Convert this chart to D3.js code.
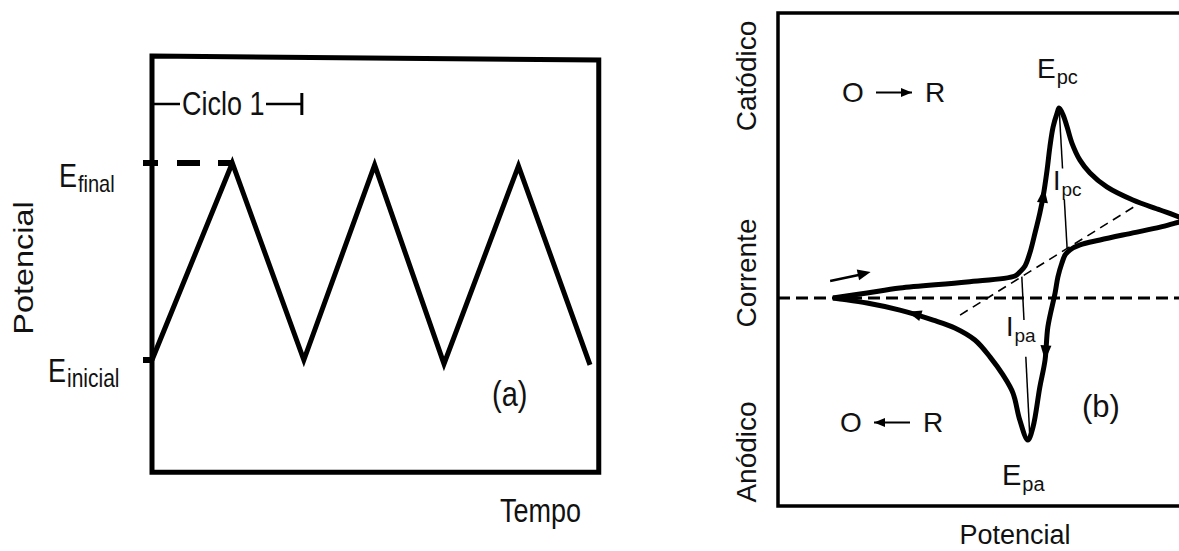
<!DOCTYPE html>
<html>
<head>
<meta charset="utf-8">
<script src="https://cdn.jsdelivr.net/npm/d3@7"></script>
<style>
  html, body { margin: 0; padding: 0; background: #fff; }
  svg { display: block; }
</style>
</head>
<body>
<svg id="chart" width="1179" height="551"></svg>
<script>
// ---- (a) triangular potential program: time (arb.) vs potential (0 = E inicial, 1 = E final)
const cycleTimes = [0, 1.1, 2.08, 3.05, 4.0, 5.02, 6.0];
const cyclePotentials = [0, 1, 0, 0.99, -0.02, 0.985, -0.025];

// ---- (b) cyclic voltammogram: potential (arb.) vs current (cathodic > 0)
const forwardE = [13.7, 22.2, 30.4, 47.1, 59.1, 60.3, 61.6, 62.8, 64.1, 65.3, 66.1, 67.1, 67.8, 68.6, 69.6, 70.1,
                  71.1, 72.1, 73.3, 75.3, 77.8, 82.0, 88.5, 95.3, 100.0, 101.5];
const forwardI = [0, 0.024, 0.048, 0.077, 0.106, 0.125, 0.154, 0.216, 0.313, 0.409, 0.486, 0.615, 0.726, 0.822, 0.889, 0.913,
                  0.880, 0.822, 0.745, 0.663, 0.601, 0.534, 0.471, 0.423, 0.389, 0.370];
const reverseE = [101.5, 100.0, 95.3, 88.5, 80.3, 75.3, 72.8, 71.6, 70.8, 69.8, 69.1, 67.3, 66.6, 65.3, 63.6, 62.3,
                  60.3, 58.6, 56.1, 52.9, 49.1, 44.1, 38.7, 30.4, 22.2, 15.5, 13.7];
const reverseI = [0.370, 0.365, 0.341, 0.313, 0.279, 0.255, 0.231, 0.207, 0.168, 0.101, 0.024, -0.139, -0.298, -0.428, -0.620, -0.683,
                  -0.587, -0.457, -0.370, -0.284, -0.202, -0.144, -0.106, -0.058, -0.024, -0.005, 0];
// extrapolated baseline used for the peak currents
const baselineE = [45.4, 89.5];
const baselineI = [-0.082, 0.447];
// peaks: cathodic (pc) and anodic (pa)
const peakE = { pc: 70.1, pa: 62.3 };
const peakI = { pc: 0.913, pa: -0.683 };

const FONT = "'Liberation Sans', Arial, Helvetica, sans-serif";
const svg = d3.select("#chart");

function arrowHead(g, from, to, len, half) {
  const dx = to[0] - from[0], dy = to[1] - from[1];
  const L = Math.hypot(dx, dy), ux = dx / L, uy = dy / L;
  const bx = to[0] - ux * len, by = to[1] - uy * len;
  g.append("path")
    .attr("d", `M${to[0]},${to[1]}L${bx - uy * half},${by + ux * half}L${bx + uy * half},${by - ux * half}Z`)
    .attr("fill", "#000");
}

// label with a subscript; sy stretches vertically
function subLabel(g, x, y, main, sub, size, subSize, subDy, sy) {
  const t = g.append("text")
    .attr("transform", `translate(${x},${y}) scale(1,${sy})`)
    .attr("font-family", FONT).attr("font-size", size).attr("fill", "#111");
  t.append("tspan").text(main);
  t.append("tspan").attr("font-size", subSize).attr("dy", subDy).attr("dx", 1).text(sub);
  return t;
}

// ================= panel (a) =================
const xT = d3.scaleLinear().domain([0, 6]).range([152, 590]);
const yP = d3.scaleLinear().domain([0, 1]).range([360, 163]);
const pa = svg.append("g");
const SY = 1.2;

pa.append("path")
  .attr("d", d3.line()([[xT(0), yP(1.543)], [xT(6.12), yP(1.523)], [xT(6.12), yP(-0.57)], [xT(0), yP(-0.57)]]) + "Z")
  .attr("fill", "none").attr("stroke", "#000").attr("stroke-width", 5);

// E final dashed guide and E inicial tick
pa.append("line")
  .attr("x1", xT(0) - 9).attr("x2", xT(cycleTimes[1])).attr("y1", yP(1)).attr("y2", yP(1))
  .attr("stroke", "#000").attr("stroke-width", 6).attr("stroke-dasharray", "15 19 23 18 14");
pa.append("line")
  .attr("x1", xT(0) - 9).attr("x2", xT(0)).attr("y1", yP(0)).attr("y2", yP(0))
  .attr("stroke", "#000").attr("stroke-width", 6);

// triangular wave
pa.append("path")
  .datum(cycleTimes.map((t, i) => [t, cyclePotentials[i]]))
  .attr("d", d3.line().x(d => xT(d[0])).y(d => yP(d[1])))
  .attr("fill", "none").attr("stroke", "#000").attr("stroke-width", 5).attr("stroke-linejoin", "miter");

// cycle 1 marker
const cy = 104, cEnd = xT(cycleTimes[2]) - 2;
pa.append("line").attr("x1", xT(0)).attr("x2", 180).attr("y1", cy).attr("y2", cy).attr("stroke", "#000").attr("stroke-width", 2.5);
pa.append("text").attr("transform", `translate(182,115) scale(1,${SY})`)
  .attr("font-family", FONT).attr("font-size", 27).attr("fill", "#111").text("Ciclo 1");
pa.append("line").attr("x1", 266).attr("x2", cEnd).attr("y1", cy).attr("y2", cy).attr("stroke", "#000").attr("stroke-width", 2.5);
pa.append("line").attr("x1", cEnd).attr("x2", cEnd).attr("y1", 93).attr("y2", 115).attr("stroke", "#000").attr("stroke-width", 3);

subLabel(pa, 59, 187, "E", "final", 27, 20, 4, SY);
subLabel(pa, 48, 382, "E", "inicial", 27, 21, 4, SY);

pa.append("text").attr("transform", `translate(33,268) rotate(-90) scale(${SY},1)`)
  .attr("text-anchor", "middle").attr("font-family", FONT).attr("font-size", 27).attr("fill", "#111").text("Potencial");
pa.append("text").attr("transform", `translate(492,406) scale(1,${SY})`)
  .attr("font-family", FONT).attr("font-size", 29).attr("fill", "#111").text("(a)");
pa.append("text").attr("transform", `translate(500,522) scale(1,${SY})`)
  .attr("font-family", FONT).attr("font-size", 27).attr("fill", "#111").text("Tempo");

// ================= panel (b) =================
const xE = d3.scaleLinear().domain([0, 100]).range([778, 1179]);
const yI = d3.scaleLinear().domain([-1, 1]).range([506, 90]);
const pb = svg.append("g");

// frame (open on the right, beyond the view)
pb.append("path")
  .attr("d", d3.line()([[xE(102), yI(1.37)], [xE(0), yI(1.37)], [xE(0), yI(-1)], [xE(102), yI(-1)]]))
  .attr("fill", "none").attr("stroke", "#000").attr("stroke-width", 3.5);

// zero-current line
pb.append("line").attr("x1", xE(0)).attr("x2", xE(101)).attr("y1", yI(0)).attr("y2", yI(0))
  .attr("stroke", "#000").attr("stroke-width", 3).attr("stroke-dasharray", "12 6");

// baseline
pb.append("line")
  .attr("x1", xE(baselineE[0])).attr("y1", yI(baselineI[0]))
  .attr("x2", xE(baselineE[1])).attr("y2", yI(baselineI[1]))
  .attr("stroke", "#000").attr("stroke-width", 1.6).attr("stroke-dasharray", "9 6");

const baseAt = e => baselineI[0] + (baselineI[1] - baselineI[0]) * (e - baselineE[0]) / (baselineE[1] - baselineE[0]);

// peak current markers with a gap for their labels
function peakLine(p0, p1, gaps) {
  const segs = [[0, gaps[0]], [gaps[1], 1]];
  segs.forEach(([t0, t1]) => {
    pb.append("line")
      .attr("x1", p0[0] + (p1[0] - p0[0]) * t0).attr("y1", p0[1] + (p1[1] - p0[1]) * t0)
      .attr("x2", p0[0] + (p1[0] - p0[0]) * t1).attr("y2", p0[1] + (p1[1] - p0[1]) * t1)
      .attr("stroke", "#000").attr("stroke-width", 1.5);
  });
}
const pcFootE = 72.1, paFootE = 60.8;
peakLine([xE(peakE.pc), yI(peakI.pc)], [xE(pcFootE), yI(baseAt(pcFootE))], [0.43, 0.65]);
peakLine([xE(paFootE), yI(baseAt(paFootE))], [xE(peakE.pa + 0.5), yI(peakI.pa + 0.015)], [0.27, 0.5]);

// voltammogram
const cvLine = d3.line().x(d => xE(d[0])).y(d => yI(d[1])).curve(d3.curveCatmullRom.alpha(0.5));
const fwd = forwardE.map((e, i) => [e, forwardI[i]]);
const rev = reverseE.map((e, i) => [e, reverseI[i]]);
[fwd, rev].forEach(data => {
  pb.append("path").datum(data).attr("d", cvLine)
    .attr("fill", "none").attr("stroke", "#000").attr("stroke-width", 5).attr("stroke-linejoin", "round");
});

// scan direction arrows
const P = (e, i) => [xE(e), yI(i)];
arrowHead(pb, P(65.9, 0.45), P(66.4, 0.53), 15, 5.5);
arrowHead(pb, P(67.0, -0.17), P(66.6, -0.30), 15, 5.5);
arrowHead(pb, P(36.0, -0.088), P(32.3, -0.066), 14, 5.5);
// start of scan
pb.append("line").attr("x1", xE(13.0)).attr("y1", yI(0.082)).attr("x2", xE(21.0)).attr("y2", yI(0.114))
  .attr("stroke", "#000").attr("stroke-width", 2.5);
arrowHead(pb, P(13.0, 0.082), P(23.1, 0.125), 13, 5.5);

// reaction annotations
function reaction(x, y, leftToRight) {
  pb.append("text").attr("x", x).attr("y", y).attr("font-family", FONT).attr("font-size", 28).attr("fill", "#111").text("O");
  pb.append("text").attr("x", x + 83).attr("y", y).attr("font-family", FONT).attr("font-size", 28).attr("fill", "#111").text("R");
  const ay = y - 9.5;
  const a0 = [x + 34, ay], a1 = [x + 70, ay];
  pb.append("line").attr("x1", a0[0]).attr("x2", a1[0]).attr("y1", ay).attr("y2", ay).attr("stroke", "#000").attr("stroke-width", 2);
  if (leftToRight) arrowHead(pb, a0, a1, 11, 4.5); else arrowHead(pb, a1, a0, 11, 4.5);
}
reaction(842, 102, true);
reaction(840, 432, false);

// peak labels
subLabel(pb, 1037, 78, "E", "pc", 28, 20, 6, 1);
subLabel(pb, 1002, 485, "E", "pa", 29, 20, 6, 1);
subLabel(pb, 1053, 190, "I", "pc", 27, 19, 6, 1);
subLabel(pb, 1006, 336, "I", "pa", 27, 19, 6, 1);

pb.append("text").attr("x", 1082).attr("y", 417).attr("font-family", FONT).attr("font-size", 31).attr("fill", "#111").text("(b)");

// axis titles
pb.append("text").attr("x", 1015).attr("y", 544).attr("text-anchor", "middle")
  .attr("font-family", FONT).attr("font-size", 27).attr("fill", "#111").text("Potencial");
[["Catódico", 76], ["Corrente", 273], ["Anódico", 452]].forEach(([t, yc]) => {
  pb.append("text").attr("transform", `translate(756,${yc}) rotate(-90)`).attr("text-anchor", "middle")
    .attr("font-family", FONT).attr("font-size", 28).attr("fill", "#111").text(t);
});
</script>
</body>
</html>
